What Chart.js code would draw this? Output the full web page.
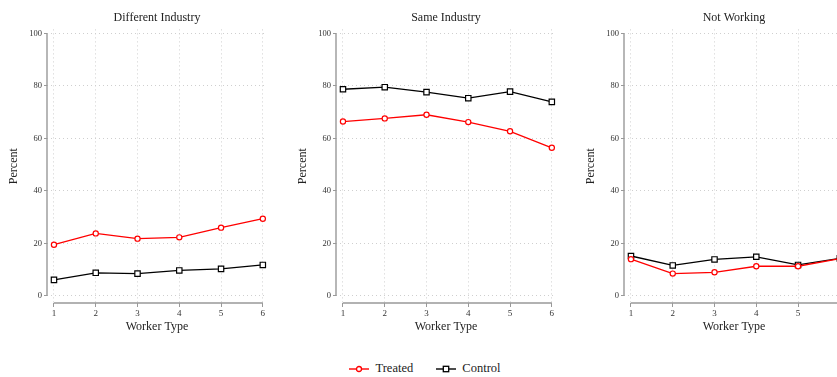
<!DOCTYPE html>
<html>
<head>
<meta charset="utf-8">
<script src="https://cdn.jsdelivr.net/npm/chart.js@4"></script>
<style>
  html, body { margin: 0; padding: 0; background: #fff; overflow: hidden; width: 837px; height: 377px; }
  #wrap { position: relative; width: 837px; height: 377px; overflow: hidden; }
  canvas.panel { position: absolute; top: 0; }
  #legend { position: absolute; top: 360px; left: 0; width: 850px; text-align: center;
            font-family: 'Liberation Serif', 'DejaVu Serif', serif; font-size: 12.5px; color: #222; }
  #legend span.item { display: inline-block; margin: 0 10px; vertical-align: middle; }
  #legend svg { vertical-align: middle; margin-right: 6px; }
</style>
</head>
<body>
<div id="wrap">
  <canvas id="c1" class="panel" width="288" height="345" style="left:0px"></canvas>
  <canvas id="c2" class="panel" width="288" height="345" style="left:289px"></canvas>
  <canvas id="c3" class="panel" width="288" height="345" style="left:577px"></canvas>
  <div id="legend">
    <span class="item"><svg width="20" height="10"><line x1="0" y1="5" x2="20" y2="5" stroke="#ff0000" stroke-width="1.4"/><circle cx="10" cy="5" r="2.5" fill="#fff" stroke="#ff0000" stroke-width="1.3"/></svg>Treated</span>
    <span class="item"><svg width="20" height="10"><line x1="0" y1="5" x2="20" y2="5" stroke="#000" stroke-width="1.4"/><rect x="7.3" y="2.3" width="5.4" height="5.4" fill="#fff" stroke="#000" stroke-width="1.3"/></svg>Control</span>
  </div>
</div>
<script>
// ---- Data ----
const workerTypes = [1, 2, 3, 4, 5, 6];
const yTickValues = [0, 20, 40, 60, 80, 100];
const panelTitles = ["Different Industry", "Same Industry", "Not Working"];
const seriesNames = ["Treated", "Control"];

const diffTreated = [19.5, 23.8, 21.8, 22.3, 26.0, 29.4];
const diffControl = [6.1, 8.8, 8.5, 9.7, 10.3, 11.8];
const sameTreated = [66.4, 67.6, 69.0, 66.2, 62.7, 56.4];
const sameControl = [78.7, 79.5, 77.6, 75.3, 77.8, 73.9];
const notTreated  = [14.0, 8.5, 9.0, 11.3, 11.3, 14.2];
const notControl  = [15.2, 11.6, 13.9, 14.9, 11.8, 14.3];

// ---- Styling ----
const FONT = "'Liberation Serif', 'DejaVu Serif', serif";
Chart.defaults.font.family = FONT;
Chart.defaults.color = '#222';
const AXIS_COLOR = '#999';
const GRID_COLOR = '#cfcfcf';

const toXY = vals => workerTypes.map((x, i) => ({ x: x, y: vals[i] }));

// Stata-like axis lines spanning only the tick range
const axisLinePlugin = {
  id: 'axisLines',
  afterDraw(chart) {
    const { ctx, chartArea, scales } = chart;
    const xs = scales.x, ys = scales.y;
    ctx.save();
    ctx.strokeStyle = AXIS_COLOR;
    ctx.lineWidth = 1.4;
    ctx.beginPath();
    ctx.moveTo(chartArea.left, ys.getPixelForValue(yTickValues[0]));
    ctx.lineTo(chartArea.left, ys.getPixelForValue(yTickValues[yTickValues.length - 1]));
    ctx.moveTo(xs.getPixelForValue(workerTypes[0]), chartArea.bottom);
    ctx.lineTo(xs.getPixelForValue(workerTypes[workerTypes.length - 1]), chartArea.bottom);
    ctx.stroke();
    ctx.restore();
  }
};

function makePanel(id, title, treated, control) {
  new Chart(document.getElementById(id), {
    type: 'line',
    data: {
      datasets: [
        { label: seriesNames[0], data: toXY(treated), borderColor: '#ff0000', borderWidth: 1.3,
          pointStyle: 'circle', pointRadius: 2.6, pointBorderWidth: 1.2,
          pointBackgroundColor: '#fff', pointBorderColor: '#ff0000', tension: 0 },
        { label: seriesNames[1], data: toXY(control), borderColor: '#000', borderWidth: 1.3,
          pointStyle: 'rect', pointRadius: 3.8, pointBorderWidth: 1.2,
          pointBackgroundColor: '#fff', pointBorderColor: '#000', tension: 0 }
      ]
    },
    options: {
      responsive: false,
      animation: false,
      layout: { padding: { left: 0, right: 21, top: 0, bottom: 0 } },
      plugins: {
        legend: { display: false },
        tooltip: { enabled: false },
        title: { display: true, text: title, fullSize: false, color: '#222',
                 font: { size: 12, weight: 'normal', family: FONT },
                 padding: { top: 11, bottom: 4 } }
      },
      scales: {
        x: {
          type: 'linear', min: 0.833, max: 6.1,
          afterBuildTicks: s => { s.ticks = workerTypes.map(v => ({ value: v })); },
          afterFit: s => { s.height = 42; },
          grid: { color: GRID_COLOR, lineWidth: 1, tickLength: 4, tickColor: AXIS_COLOR, tickWidth: 1 },
          border: { display: false, dash: [1, 3] },
          ticks: { color: '#333', font: { size: 9, family: FONT }, padding: 1, maxRotation: 0 },
          title: { display: true, text: 'Worker Type', color: '#222',
                   font: { size: 12, family: FONT }, padding: { top: 0, bottom: 10.8 } }
        },
        y: {
          type: 'linear', min: -2.7, max: 101.5,
          afterBuildTicks: s => { s.ticks = yTickValues.map(v => ({ value: v })); },
          afterFit: s => { s.width = 47; },
          grid: { color: GRID_COLOR, lineWidth: 1, tickLength: 3, tickColor: AXIS_COLOR, tickWidth: 1 },
          border: { display: false, dash: [1, 3] },
          ticks: { color: '#333', font: { size: 8.5, family: FONT }, padding: 2 },
          title: { display: true, text: 'Percent', color: '#222',
                   font: { size: 12, family: FONT }, padding: { top: 7, bottom: 0 } }
        }
      }
    },
    plugins: [axisLinePlugin]
  });
}

makePanel('c1', panelTitles[0], diffTreated, diffControl);
makePanel('c2', panelTitles[1], sameTreated, sameControl);
makePanel('c3', panelTitles[2], notTreated, notControl);
</script>
</body>
</html>
